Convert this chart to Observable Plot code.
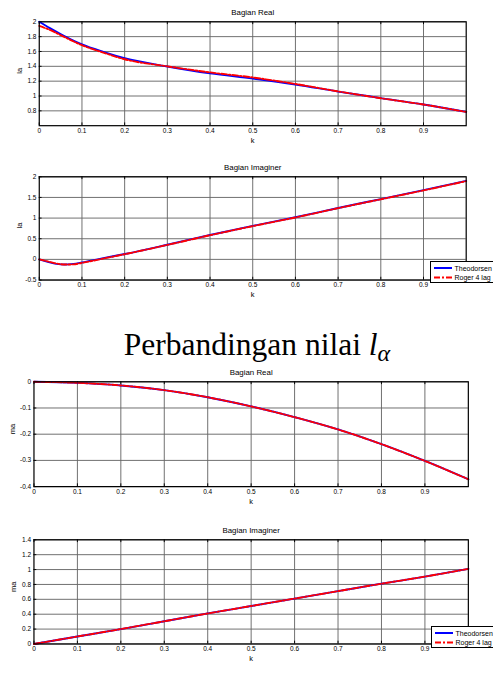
<!DOCTYPE html>
<html><head><meta charset="utf-8">
<script src="https://cdn.jsdelivr.net/npm/d3@7"></script>
<script src="https://cdn.jsdelivr.net/npm/@observablehq/plot@0.6"></script>
<style>
html,body{margin:0;padding:0;background:#fff;overflow:hidden;}
#page{position:relative;width:493px;height:673px;overflow:hidden;background:#fff;}
.panel{position:absolute;left:0;}
.legend{position:absolute;background:#fff;border:1px solid #000;font:7px "Liberation Sans",Arial,sans-serif;width:80px;height:20px;}
</style></head><body><div id="page"></div>
<script>
// ---- data ----
const xTicks = [0, 0.1, 0.2, 0.3, 0.4, 0.5, 0.6, 0.7, 0.8, 0.9];

// la, real part
const kLaRe = [0, 0.025, 0.05, 0.075, 0.1, 0.15, 0.2, 0.3, 0.4, 0.5, 0.6, 0.7, 0.8, 0.9, 1.0];
const laReTheo  = [2.0, 1.915, 1.835, 1.76, 1.695, 1.595, 1.51, 1.398, 1.305, 1.235, 1.155, 1.06, 0.972, 0.885, 0.785];
const laReRoger = [1.945, 1.89, 1.82, 1.75, 1.685, 1.585, 1.495, 1.40, 1.318, 1.25, 1.162, 1.062, 0.97, 0.885, 0.785];
const laReTicks = [0.8, 1, 1.2, 1.4, 1.6, 1.8, 2];

// la, imaginary part
const kLaIm = [0, 0.02, 0.04, 0.06, 0.08, 0.1, 0.15, 0.2, 0.3, 0.4, 0.5, 0.6, 0.7, 0.8, 0.9, 1.0];
const laImTheo  = [0, -0.06, -0.11, -0.125, -0.11, -0.075, 0.03, 0.13, 0.355, 0.59, 0.81, 1.02, 1.245, 1.46, 1.675, 1.9];
const laImRoger = [0, -0.05, -0.10, -0.125, -0.12, -0.085, 0.02, 0.125, 0.35, 0.585, 0.805, 1.015, 1.24, 1.455, 1.67, 1.895];
const laImTicks = [-0.5, 0, 0.5, 1, 1.5, 2];

// ma, real part
const kMa = [0, 0.1, 0.2, 0.3, 0.4, 0.5, 0.6, 0.7, 0.8, 0.9, 1.0];
const maReTheo  = [0, -0.004, -0.014, -0.032, -0.059, -0.094, -0.135, -0.182, -0.238, -0.302, -0.372];
const maReRoger = [0, -0.004, -0.014, -0.032, -0.059, -0.094, -0.135, -0.182, -0.238, -0.302, -0.372];
const maReTicks = [-0.4, -0.3, -0.2, -0.1, 0];

// ma, imaginary part
const maImTheo  = [0, 0.1, 0.2, 0.305, 0.41, 0.51, 0.61, 0.71, 0.81, 0.905, 1.01];
const maImRoger = [0, 0.1, 0.2, 0.305, 0.41, 0.51, 0.61, 0.71, 0.81, 0.905, 1.01];
const maImTicks = [0, 0.2, 0.4, 0.6, 0.8, 1, 1.2, 1.4];

const seriesNames = ["Theodorsen", "Roger 4 lag"];
const heading = "Perbandingan nilai ";

// ---- drawing ----
const page = document.getElementById("page");
const FONT = "Liberation Sans, Arial, sans-serif";
const W = 530, MT = 24, MB = 24;

function rows(k, v) { return k.map((kk, i) => ({k: kk, v: v[i]})); }

function makePanel(cfg) {
  const h = cfg.bottom - cfg.top, w = cfg.x1 - cfg.x0;
  const chart = Plot.plot({
    width: W, height: h + MT + MB,
    marginLeft: cfg.x0, marginRight: W - cfg.x1, marginTop: MT, marginBottom: MB,
    style: {fontFamily: FONT, background: "transparent"},
    x: {domain: [0, 1], label: null},
    y: {domain: cfg.yDomain, label: null},
    marks: [
      Plot.ruleX(xTicks.slice(1), {stroke: "#666", strokeWidth: 1}),
      Plot.ruleY(cfg.yTicks, {stroke: "#666", strokeWidth: 1}),
      Plot.ruleX(xTicks, {stroke: "#000", insetTop: h - 3}),
      Plot.ruleX(xTicks, {stroke: "#000", insetBottom: h - 3}),
      Plot.ruleY(cfg.yTicks, {stroke: "#000", insetRight: w - 3}),
      Plot.line(rows(cfg.k, cfg.theo), {x: "k", y: "v", stroke: "#0000ff", strokeWidth: 2, curve: "monotone-x"}),
      Plot.line(rows(cfg.k, cfg.roger), {x: "k", y: "v", stroke: "#ff0000", strokeWidth: 2, curve: "monotone-x", strokeDasharray: "6,2,2,2"}),
      Plot.frame({stroke: "#000", strokeWidth: 1.3}),
      Plot.axisX(xTicks, {tickSize: 0, tickPadding: 3, fontSize: 7, tickFormat: d => String(d), label: null}),
      Plot.axisY(cfg.yTicks, {tickSize: 0, tickPadding: 3, fontSize: 7, tickFormat: d => String(d), label: null}),
      Plot.text([cfg.title], {frameAnchor: "top", dy: -9.5, fontSize: 8.5, lineAnchor: "middle"}),
      Plot.text(["k"], {frameAnchor: "bottom", dy: 16, fontSize: 8, lineAnchor: "middle"}),
      Plot.text([cfg.ylabel], {frameAnchor: "left", dx: cfg.ylDx, rotate: -90, fontSize: 8, lineAnchor: "middle"})
    ]
  });
  const div = document.createElement("div");
  div.className = "panel";
  div.style.top = (cfg.top - MT) + "px";
  div.appendChild(chart);
  page.appendChild(div);

  if (cfg.legend) {
    const lg = document.createElement("div");
    lg.className = "legend";
    lg.style.left = cfg.legend[0] + "px";
    lg.style.top = cfg.legend[1] + "px";
    lg.innerHTML = `<svg width="80" height="20" style="display:block;font-family:${FONT}">
      <line x1="3" x2="21" y1="6" y2="6" stroke="#0000ff" stroke-width="2"/>
      <line x1="3" x2="21" y1="15.5" y2="15.5" stroke="#ff0000" stroke-width="2" stroke-dasharray="6,2,2,2"/>
      <text x="23.5" y="8.5" font-size="7">${seriesNames[0]}</text>
      <text x="23.5" y="18" font-size="7">${seriesNames[1]}</text></svg>`;
    page.appendChild(lg);
  }
}

makePanel({top: 23.3, bottom: 135, x0: 41.7, x1: 500.7, yDomain: [0.6, 2], yTicks: laReTicks,
  k: kLaRe, theo: laReTheo, roger: laReRoger, title: "Bagian Real", ylabel: "la", ylDx: -20.7});
makePanel({top: 178.3, bottom: 289.3, x0: 41.7, x1: 500.7, yDomain: [-0.5, 2], yTicks: laImTicks,
  k: kLaIm, theo: laImTheo, roger: laImRoger, title: "Bagian Imaginer", ylabel: "la", ylDx: -21.5,
  legend: [429.7, 261]});
makePanel({top: 383.3, bottom: 496, x0: 36, x1: 503, yDomain: [-0.4, 0], yTicks: maReTicks,
  k: kMa, theo: maReTheo, roger: maReRoger, title: "Bagian Real", ylabel: "ma", ylDx: -23});
makePanel({top: 540.7, bottom: 652.7, x0: 36, x1: 503, yDomain: [0, 1.4], yTicks: maImTicks,
  k: kMa, theo: maImTheo, roger: maImRoger, title: "Bagian Imaginer", ylabel: "ma", ylDx: -22,
  legend: [431.3, 626]});

// heading
const hd = document.createElementNS("http://www.w3.org/2000/svg", "svg");
hd.setAttribute("width", 493); hd.setAttribute("height", 48);
hd.style.position = "absolute"; hd.style.left = "0px"; hd.style.top = "325px";
hd.innerHTML = `<text x="257" y="30" text-anchor="middle" font-family="Liberation Serif, Times New Roman, serif" font-size="31.5">${heading}<tspan font-style="italic">l</tspan><tspan font-style="italic" font-size="24" dy="6">α</tspan></text>`;
page.appendChild(hd);
</script>
</body></html>
